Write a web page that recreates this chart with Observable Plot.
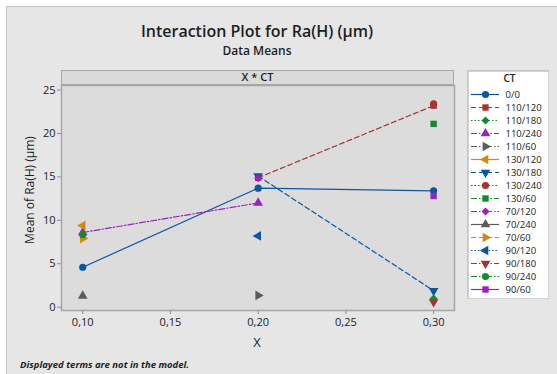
<!DOCTYPE html>
<html><head><meta charset="utf-8">
<script src="https://cdn.jsdelivr.net/npm/d3@7"></script>
<script src="https://cdn.jsdelivr.net/npm/@observablehq/plot@0.6"></script>
<style>
body{margin:0;background:#fff;font-family:"Open Sans",sans-serif;}
#wrap{position:relative;width:557px;height:374px;overflow:hidden;}
#bg{position:absolute;left:6px;top:6px;width:600px;height:400px;background:#e6e6e6;border:1px solid #c4c4c4;}
.abs{position:absolute;}
.t{position:absolute;white-space:nowrap;color:#1e1e1e;}
#title{left:0;width:514px;text-align:center;top:22px;font-size:16px;font-weight:600;line-height:19px;}
#sub{left:0;width:514px;text-align:center;top:44px;font-size:12px;font-weight:600;line-height:14px;}
#strip{left:61px;top:70px;width:393px;height:15px;box-sizing:border-box;background:#dadada;border:1.5px solid #a6a6a6;text-align:center;font-size:11px;font-weight:600;line-height:12px;}
#ylab{left:30px;top:190px;font-size:12px;line-height:16px;transform:translate(-50%,-50%) rotate(-90deg);}
#xlab{left:257px;top:342px;font-size:13px;line-height:16px;transform:translate(-50%,-50%);}
#foot{left:20px;top:359px;font-size:9.5px;font-weight:700;font-style:italic;line-height:12px;}
</style></head><body>
<div id="wrap">
<div id="bg"></div>
<div class="abs" id="main" style="left:0;top:0"></div>
<div class="abs" id="legend" style="left:467px;top:70px"></div>
<div class="t" id="title">Interaction Plot for Ra(H) (µm)</div>
<div class="t" id="sub">Data Means</div>
<div class="t" id="strip">X * CT</div>
<div class="t" id="ylab">Mean of Ra(H) (µm)</div>
<div class="t" id="xlab">X</div>
<div class="t" id="foot">Displayed terms are not in the model.</div>
</div>
<script>
// ---- data ----
const xLevels = [0.10, 0.20, 0.30];
const xTicks = [0.10, 0.15, 0.20, 0.25, 0.30];
const yTicks = [0, 5, 10, 15, 20, 25];
const ctLevels = ["0/0","110/120","110/180","110/240","110/60","130/120","130/180","130/240","130/60","70/120","70/240","70/60","90/120","90/180","90/240","90/60"];
const meanAtX010 = [4.6, null, null, 8.6, null, 9.4, null, null, null, null, 1.3, 7.9, null, null, 8.35, null];
const meanAtX020 = [13.7, 14.9, null, 12.0, 1.35, null, 15.1, null, null, 14.85, null, null, 8.2, null, null, null];
const meanAtX030 = [13.4, 23.2, 1.0, null, null, null, 1.9, 23.4, 21.1, null, null, null, null, 0.6, null, 12.8];

// ---- styles (Minitab-like cycles) ----
const palette = ["#0b56a4","#a63232","#138a2e","#9a22c4","#5c5c5c","#d08b12"];
const symbolCycle = ["circle","square","diamond2","triangle","triangle","triangle","triangle"];
const rotateCycle = [0,0,0,0,90,270,180];
const dashCycle = [null,"5,3","1.5,2","6,2,1.5,2","6,2,1.5,2,1.5,2"];
const colorOf = i => palette[i % 6];
const symOf = i => symbolCycle[i % 7];
const rotOf = i => rotateCycle[i % 7];
const dashOf = i => dashCycle[i % 5];

const byX = [meanAtX010, meanAtX020, meanAtX030];
const rows = [];
ctLevels.forEach((ct, i) => {
  xLevels.forEach((x, j) => {
    const v = byX[j][i];
    rows.push({ct, i, x, y: v == null ? NaN : v});
  });
});
const pts = rows.filter(d => !isNaN(d.y));
const fmt = d => d3.format(".2f")(d).replace(".", ",");
const font = {fontFamily: "Open Sans, sans-serif", fontSize: "11px", background: "transparent", color: "#222"};

const lineMarks = ctLevels.map((ct, i) => Plot.line(rows.filter(d => d.ct === ct), {
  x: "x", y: "y", stroke: colorOf(i), strokeWidth: 1.2, strokeDasharray: dashOf(i)
}));

const main = Plot.plot({
  width: 557, height: 374,
  marginLeft: 61, marginRight: 103, marginTop: 85, marginBottom: 64,
  style: font,
  x: {domain: [0.0879, 0.3119], label: null},
  y: {domain: [-0.38, 25.52], label: null},
  marks: [
    Plot.frame({fill: "#dcdcdc"}),
    Plot.axisX({ticks: xTicks, tickFormat: fmt, tickSize: 4, tickPadding: 4, stroke: "#8a8a8a", fill: "#222", label: null}),
    Plot.axisY({ticks: yTicks, tickSize: 4, tickPadding: 2, stroke: "#8a8a8a", fill: "#222", label: null}),
    ...lineMarks,
    Plot.dot(pts, {x: "x", y: "y", r: 3.6, symbol: d => symOf(d.i), rotate: d => rotOf(d.i), fill: d => colorOf(d.i), stroke: "none"}),
    Plot.frame({stroke: "#a6a6a6", strokeWidth: 1.5})
  ]
});
document.getElementById("main").append(main);

const legend = Plot.plot({
  width: 82, height: 229, margin: 0,
  style: {...font, fontSize: "9.5px"},
  x: {domain: [0, 1], range: [4, 32], axis: null},
  y: {type: "point", domain: ctLevels, range: [22.7, 219.3], padding: 0, axis: null},
  marks: [
    Plot.frame({fill: "white", stroke: "#a8a8a8", inset: 0.5}),
    Plot.text(["CT"], {frameAnchor: "top", dy: 4, dx: 1, fill: "#222", fontWeight: 600, fontSize: 10}),
    ...ctLevels.map((ct, i) => Plot.ruleY([ct], {x1: 0, x2: 1, stroke: colorOf(i), strokeWidth: 1.2, strokeDasharray: dashOf(i)})),
    Plot.dot(ctLevels.map((ct, i) => ({ct, i})), {x: 0.5, y: "ct", r: 3.6, symbol: d => symOf(d.i), rotate: d => rotOf(d.i), fill: d => colorOf(d.i), stroke: "none"}),
    Plot.text(ctLevels, {x: 1, y: d => d, text: d => d, dx: 6, textAnchor: "start", fill: "#222"})
  ]
});
document.getElementById("legend").append(legend);
</script>
</body></html>
